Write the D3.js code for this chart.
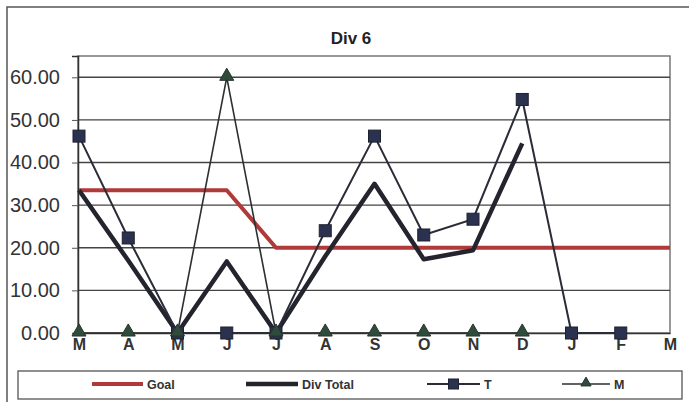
<!DOCTYPE html>
<html>
<head>
<meta charset="utf-8">
<script src="https://cdn.jsdelivr.net/npm/d3@7"></script>
<style>
  html, body { margin: 0; padding: 0; background: #fff; }
  svg { display: block; font-family: Arial, "Liberation Sans", sans-serif; }
</style>
</head>
<body>
<svg id="chart" width="689" height="402"></svg>
<script>
// Monthly figures for Div 6
const months = ["M", "A", "M", "J", "J", "A", "S", "O", "N", "D", "J", "F", "M"];
const goal     = [33.5, 33.5, 33.5, 33.5, 20, 20, 20, 20, 20, 20, 20, 20, 20];
const divTotal = [33.5, 17, 0, 16.8, 0, 18, 35, 17.3, 19.4, 44.5, null, null, null];
const seriesT  = [46.2, 22.3, 0, 0, 0, 24, 46.2, 23, 26.7, 54.8, 0, 0, null];
const seriesM  = [0, 0, 0, 60, 0, 0, 0, 0, 0, 0, null, null, null];
const yTicks   = [0, 10, 20, 30, 40, 50, 60];

const svg = d3.select("#chart");
const plot = { left: 78, right: 670, top: 56, bottom: 333 };

const x = d3.scalePoint().domain(d3.range(months.length)).range([plot.left + 1, plot.right]);
const y = d3.scaleLinear().domain([0, 65]).range([plot.bottom, plot.top]);

// outer chart border
svg.append("path")
  .attr("d", `M7,402 V7 H689`)
  .attr("fill", "none").attr("stroke", "#555").attr("stroke-width", 1.5);

// title
svg.append("text")
  .attr("x", 351).attr("y", 44)
  .attr("text-anchor", "middle")
  .attr("font-size", 17).attr("font-weight", "bold").attr("fill", "#222")
  .text("Div 6");

// plot frame
svg.append("rect")
  .attr("x", plot.left).attr("y", plot.top)
  .attr("width", plot.right - plot.left).attr("height", plot.bottom - plot.top)
  .attr("fill", "#fff").attr("stroke", "#777").attr("stroke-width", 1.5);

// horizontal gridlines
svg.append("g").selectAll("line").data(yTicks.filter(d => d > 0)).join("line")
  .attr("x1", plot.left).attr("x2", plot.right)
  .attr("y1", d => y(d)).attr("y2", d => y(d))
  .attr("stroke", "#444").attr("stroke-width", 1.4);

// y axis
const yAxis = d3.axisLeft(y).tickValues(yTicks).tickFormat(d3.format(".2f")).tickSize(6).tickPadding(12);
const gy = svg.append("g").attr("transform", `translate(${plot.left},0)`).call(yAxis);
gy.select(".domain").attr("stroke", "#333").attr("stroke-width", 1.5);
gy.selectAll(".tick line").attr("stroke", "#555");
gy.selectAll(".tick text").attr("font-size", 20).attr("fill", "#333")
  .attr("font-family", "Arial, 'Liberation Sans', sans-serif");

// x axis
const xAxis = d3.axisBottom(x).tickFormat(i => months[i]).tickSize(0).tickPadding(6);
const gx = svg.append("g").attr("transform", `translate(0,${plot.bottom})`).call(xAxis);
gx.select(".domain").attr("stroke", "#333").attr("stroke-width", 1.5);
gx.selectAll(".tick text").attr("font-size", 16).attr("font-weight", "bold").attr("fill", "#333")
  .attr("font-family", "Arial, 'Liberation Sans', sans-serif");

const line = d3.line()
  .defined(d => d != null)
  .x((d, i) => x(i))
  .y(d => y(d));

const lineOf = arr => line(arr);

// Goal
svg.append("path").attr("d", lineOf(goal))
  .attr("fill", "none").attr("stroke", "#b03a3a").attr("stroke-width", 4)
  .attr("stroke-linejoin", "round");

// Div Total
svg.append("path").attr("d", lineOf(divTotal))
  .attr("fill", "none").attr("stroke", "#23242e").attr("stroke-width", 4.5)
  .attr("stroke-linejoin", "round");

// T
svg.append("path").attr("d", lineOf(seriesT))
  .attr("fill", "none").attr("stroke", "#2a2c38").attr("stroke-width", 2);
svg.append("g").selectAll("rect")
  .data(seriesT.map((v, i) => ({ v, i })).filter(d => d.v != null)).join("rect")
  .attr("x", d => x(d.i) - 6).attr("y", d => y(d.v) - 6)
  .attr("width", 12).attr("height", 12)
  .attr("fill", "#2b3250").attr("stroke", "#1e2130").attr("stroke-width", 1);

// M
svg.append("path").attr("d", lineOf(seriesM))
  .attr("fill", "none").attr("stroke", "#2c302e").attr("stroke-width", 1.6);
const tri = d3.symbol().type(d3.symbolTriangle).size(85);
svg.append("g").selectAll("path")
  .data(seriesM.map((v, i) => ({ v, i })).filter(d => d.v != null)).join("path")
  .attr("d", tri)
  .attr("transform", d => `translate(${x(d.i)},${y(d.v) - 1})`)
  .attr("fill", "#2f4b3b").attr("stroke", "#25352c").attr("stroke-width", 1);

// legend
const lg = svg.append("g");
lg.append("rect").attr("x", 18).attr("y", 371).attr("width", 664).attr("height", 28)
  .attr("fill", "#fff").attr("stroke", "#555").attr("stroke-width", 1.3);

const legendItems = [
  { name: "Goal", x0: 92, x1: 143, color: "#b03a3a", w: 4, mark: null },
  { name: "Div Total", x0: 246, x1: 298, color: "#23242e", w: 4.5, mark: null },
  { name: "T", x0: 427, x1: 480, color: "#2a2c38", w: 2, mark: "square" },
  { name: "M", x0: 562, x1: 610, color: "#2c302e", w: 1.5, mark: "triangle" }
];
const ly = 384;
legendItems.forEach(it => {
  lg.append("line").attr("x1", it.x0).attr("x2", it.x1).attr("y1", ly).attr("y2", ly)
    .attr("stroke", it.color).attr("stroke-width", it.w);
  const cx = (it.x0 + it.x1) / 2;
  if (it.mark === "square") {
    lg.append("rect").attr("x", cx - 5).attr("y", ly - 5).attr("width", 10).attr("height", 10)
      .attr("fill", "#2b3250").attr("stroke", "#1e2130");
  } else if (it.mark === "triangle") {
    lg.append("path").attr("d", d3.symbol().type(d3.symbolTriangle).size(45))
      .attr("transform", `translate(${cx},${ly - 1})`)
      .attr("fill", "#2f4b3b").attr("stroke", "#25352c");
  }
  lg.append("text").attr("x", it.x1 + 4).attr("y", ly + 4.5)
    .attr("font-size", 12.5).attr("fill", "#333").attr("font-weight", "bold")
    .text(it.name);
});
</script>
</body>
</html>
